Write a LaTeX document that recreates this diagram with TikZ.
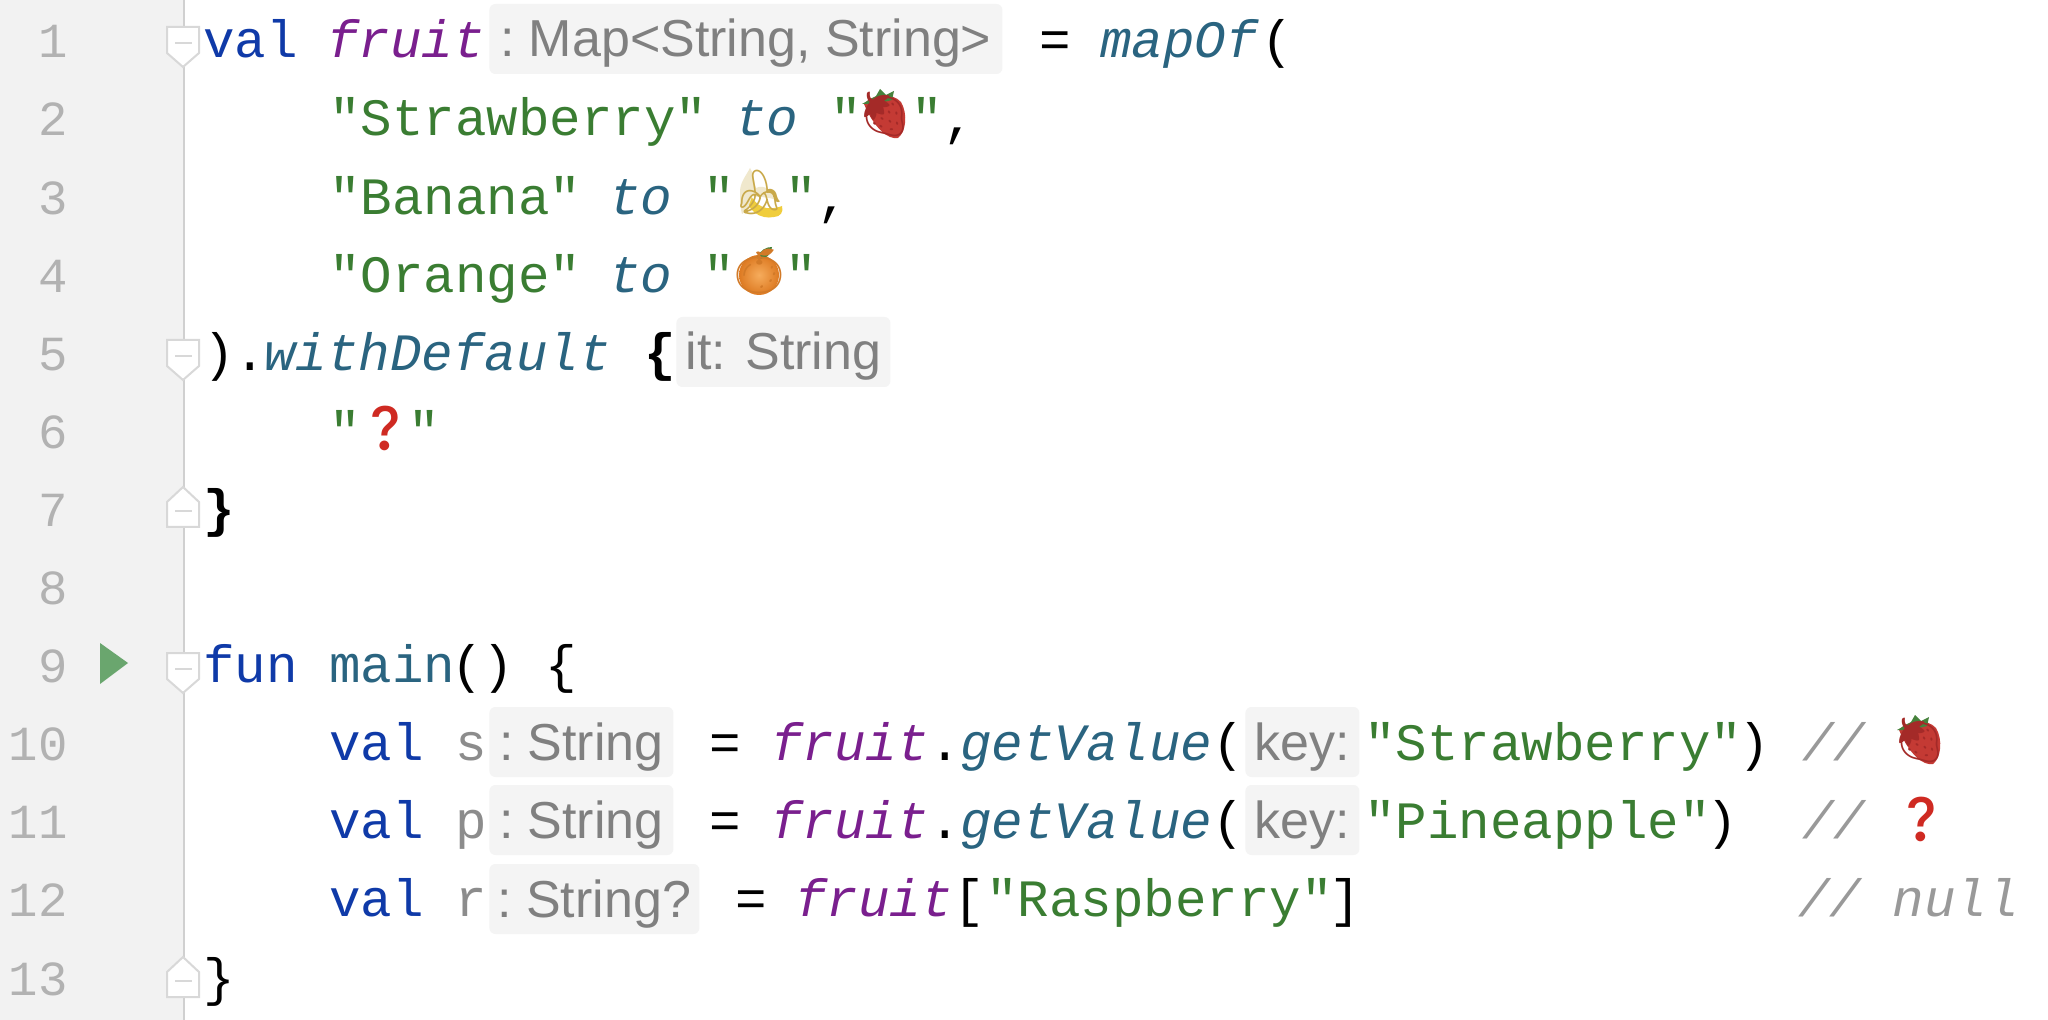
\documentclass[tikz,border=0pt]{standalone}
\usepackage{fontspec}
\newfontfamily\codefont{Liberation Mono}
\newfontfamily\hintfont{Liberation Sans}
\newfontfamily\emojifont{Noto Emoji}
\definecolor{kwblue}{HTML}{0F3AA8}
\definecolor{proppurple}{HTML}{7A1F8E}
\definecolor{strgreen}{HTML}{3A7D32}
\definecolor{fnteal}{HTML}{2A6480}
\definecolor{cmtgrey}{HTML}{999999}
\definecolor{unusedgrey}{HTML}{8C8C8C}
\definecolor{numgrey}{HTML}{B2B2B2}
\definecolor{guttergrey}{HTML}{F2F2F2}
\definecolor{gutterline}{HTML}{D0D0D0}
\definecolor{foldgrey}{HTML}{D8D8D8}
\definecolor{hintfill}{HTML}{F4F4F4}
\definecolor{hinttext}{HTML}{808080}
\definecolor{runcolor}{HTML}{6AA66E}
\definecolor{qred}{HTML}{CF2A22}
\definecolor{berryred}{HTML}{C43A34}
\definecolor{berrydark}{HTML}{A42A28}
\definecolor{leafgreen}{HTML}{46823C}
\definecolor{bananayellow}{HTML}{F0CD3C}
\definecolor{bananapeel}{HTML}{F0E8CD}
\definecolor{bananadark}{HTML}{C9A94A}
\definecolor{orangelight}{HTML}{F6AC5C}
\definecolor{orangefill}{HTML}{DD7A22}
\definecolor{orangedark}{HTML}{D27A28}
\newcommand{\foldopen}[1]{
    \draw[foldline,fill=white] (167,#1-31) -- (199,#1-31) -- (199,#1-5) -- (183,#1+9) -- (167,#1-5) -- cycle;
    \draw[foldline] (175,#1-15) -- (192,#1-15);
}
\newcommand{\foldclose}[1]{
    \draw[foldline,fill=white] (167,#1) -- (199,#1) -- (199,#1-25) -- (183,#1-40) -- (167,#1-25) -- cycle;
    \draw[foldline] (175,#1-16) -- (192,#1-16);
}
\newcommand{\berryicon}[3]{
    \begin{scope}[shift={(#2,#3)}]
        \fill[berryred] (-20,-10) .. controls (-12,-20) and (8,-22) .. (17,-12) .. controls (24,0) and (22,18) .. (14,24) .. controls (4,26) and (-10,14) .. (-20,-10);
        \fill[leafgreen] (-22,-10) -- (-8,-18) -- (-4,-25) -- (2,-19) -- (10,-23) -- (8,-14) -- (-8,-10) -- cycle;
    \end{scope}
    \node[emojiglyph,text=berrydark] (#1) at (#2,#3) {🍓};
}
\begin{document}
\begin{tikzpicture}[x=0.5pt,y=-0.5pt]
    \tikzstyle{code}=[anchor=base west,inner sep=0pt,font=\codefont\fontsize{26.25pt}{30pt}\selectfont]
    \tikzstyle{codekw}=[code,text=kwblue]
    \tikzstyle{codeprop}=[code,text=proppurple,font=\codefont\itshape\fontsize{26.25pt}{30pt}\selectfont]
    \tikzstyle{codefn}=[code,text=fnteal,font=\codefont\itshape\fontsize{26.25pt}{30pt}\selectfont]
    \tikzstyle{codestr}=[code,text=strgreen]
    \tikzstyle{codecmt}=[code,text=cmtgrey,font=\codefont\itshape\fontsize{26.25pt}{30pt}\selectfont]
    \tikzstyle{codeplain}=[code,text=black]
    \tikzstyle{codebold}=[code,text=black,font=\codefont\bfseries\fontsize{26.25pt}{30pt}\selectfont]
    \tikzstyle{codeunused}=[code,text=unusedgrey]
    \tikzstyle{linenum}=[anchor=base east,inner sep=0pt,text=numgrey,font=\codefont\fontsize{24.5pt}{30pt}\selectfont]
    \tikzstyle{hint}=[anchor=west,inner sep=0pt,minimum height=35pt,text height=24pt,text depth=6pt,rounded corners=3pt,fill=hintfill,text=hinttext,font=\hintfont\fontsize{26pt}{30pt}\selectfont]
    \tikzstyle{foldline}=[draw=foldgrey,line width=1pt]
    \tikzstyle{emojiglyph}=[inner sep=0pt,font=\emojifont\fontsize{22pt}{26pt}\selectfont]
    \useasboundingbox (0,0) rectangle (2048,1020);
    \fill[white] (0,0) rectangle (2048,1020);
    \fill[guttergrey] (0,0) rectangle (184,1020);
    \draw[gutterline,line width=1pt] (184,0) -- (184,1020);
    \foreach \n/\y in {1/58,2/136,3/215,4/293,5/371,6/449,7/527,8/604,9/682,10/760,11/838,12/916,13/995}
        \node[linenum] (num\n) at (68,\y) {\n};
    \fill[runcolor] (100,643) -- (128,663) -- (100,684) -- cycle;
    \foldopen{58}
    \foldopen{371}
    \foldclose{527}
    \foldopen{684}
    \foldclose{997}
    % line 1
    \node[codekw] (valfruit) at (203,58) {val};
    \node[codeprop] (fruit) at (327,58) {fruit};
    \node[hint,minimum width=256.5pt] (hintmap) at (489,39) {:\hspace{7pt}Map<String, String>};
    \node[codeplain] (eqfruit) at (1039,58) {=};
    \node[codefn] (mapof) at (1100,58) {mapOf};
    \node[codeplain] (openmap) at (1261,58) {(};
    % lines 2 to 4
    \node[codestr] (strawberry) at (329,136) {"Strawberry"};
    \node[codefn] (toa) at (735,136) {to};
    \node[codestr] (qa) at (830,136) {"};
    \berryicon{berrya}{884}{114}
    \node[codestr] (qb) at (911,136) {"};
    \node[codeplain] (comma) at (943,136) {,};
    \node[codestr] (banana) at (329,215) {"Banana"};
    \node[codefn] (tob) at (609,215) {to};
    \node[codestr] (qc) at (703,215) {"};
    \begin{scope}[shift={(760,192)}]
        \fill[bananayellow] (-10,2) .. controls (-4,14) and (6,20) .. (22,14) .. controls (24,20) and (20,25) .. (14,25) .. controls (0,28) and (-14,18) .. (-14,2) -- cycle;
        \fill[bananapeel] (-20,0) .. controls (-20,-10) and (-14,-16) .. (-10,-24) .. controls (-6,-18) and (-6,-8) .. (-4,-4) .. controls (4,-8) and (12,-2) .. (16,8) .. controls (6,4) and (0,6) .. (-8,4) .. controls (-10,12) and (-14,20) .. (-18,22) .. controls (-20,14) and (-20,8) .. (-20,0) -- cycle;
    \end{scope}
    \node[emojiglyph,text=bananadark] (bananaicon) at (760,192) {🍌};
    \node[codestr] (qd) at (785,215) {"};
    \node[codeplain] (commab) at (817,215) {,};
    \node[codestr] (orange) at (329,293) {"Orange"};
    \node[codefn] (toc) at (609,293) {to};
    \node[codestr] (qe) at (703,293) {"};
    \shade[inner color=orangelight,outer color=orangefill] (759,275) circle (20);
    \fill[leafgreen] (757,258) .. controls (760,250) and (766,247) .. (772,247) .. controls (772,254) and (766,260) .. (757,258) -- cycle;
    \node[emojiglyph,text=orangedark] (orangeicon) at (759,271) {🍊};
    \node[codestr] (qf) at (785,293) {"};
    % lines 5 to 7
    \node[codeplain] (closemap) at (203,371) {).};
    \node[codefn] (withdefault) at (264,371) {withDefault};
    \node[codebold] (openblock) at (644,371) {\{};
    \node[hint,minimum width=107pt] (hintit) at (676,352) {it: String};
    \node[codestr] (qg) at (329,449) {"};
    \node[emojiglyph,text=qred] (askicon) at (385,428) {❓};
    \node[codestr] (qh) at (408,449) {"};
    \node[codebold] (closeblock) at (203,527) {\}};
    % line 9
    \node[codekw] (funkw) at (203,682) {fun};
    \node[code,text=fnteal] (mainfn) at (329,682) {main};
    \node[codeplain] (mainargs) at (451,682) {() \{};
    % line 10
    \node[codekw] (vals) at (329,760) {val};
    \node[codeunused] (vars) at (455,760) {s};
    \node[hint,minimum width=92pt] (hints) at (489,742) {:\hspace{7pt}String};
    \node[codeplain] (eqs) at (709,760) {=};
    \node[codeprop] (fruits) at (771,760) {fruit};
    \node[codeplain] (dots) at (929,760) {.};
    \node[codefn] (getvalues) at (960,760) {getValue};
    \node[codeplain] (opens) at (1212,760) {(};
    \node[hint,minimum width=57pt] (hintkeys) at (1245,742) {key:};
    \node[codestr] (keys) at (1364,760) {"Strawberry"};
    \node[codeplain] (closes) at (1738,760) {)};
    \node[codecmt] (cmts) at (1802,760) {//};
    \berryicon{berryb}{1919}{740}
    % line 11
    \node[codekw] (valp) at (329,838) {val};
    \node[codeunused] (varp) at (455,838) {p};
    \node[hint,minimum width=92pt] (hintp) at (489,820) {:\hspace{7pt}String};
    \node[codeplain] (eqp) at (709,838) {=};
    \node[codeprop] (fruitp) at (771,838) {fruit};
    \node[codeplain] (dotp) at (929,838) {.};
    \node[codefn] (getvaluep) at (960,838) {getValue};
    \node[codeplain] (openp) at (1212,838) {(};
    \node[hint,minimum width=57pt] (hintkeyp) at (1245,820) {key:};
    \node[codestr] (keyp) at (1364,838) {"Pineapple"};
    \node[codeplain] (closep) at (1706,838) {)};
    \node[codecmt] (cmtp) at (1802,838) {//};
    \node[emojiglyph,text=qred] (askiconb) at (1921,819) {❓};
    % line 12
    \node[codekw] (valr) at (329,916) {val};
    \node[codeunused] (varr) at (455,916) {r};
    \node[hint,minimum width=105pt] (hintr) at (489,899) {:\hspace{7pt}String?};
    \node[codeplain] (eqr) at (735,916) {=};
    \node[codeprop] (fruitr) at (795,916) {fruit};
    \node[codeplain] (openr) at (953,916) {[};
    \node[codestr] (keyr) at (986,916) {"Raspberry"};
    \node[codeplain] (closer) at (1329,916) {]};
    \node[codecmt] (cmtr) at (1798,916) {// null};
    % line 13
    \node[codeplain] (closemain) at (203,995) {\}};
\end{tikzpicture}
\end{document}
